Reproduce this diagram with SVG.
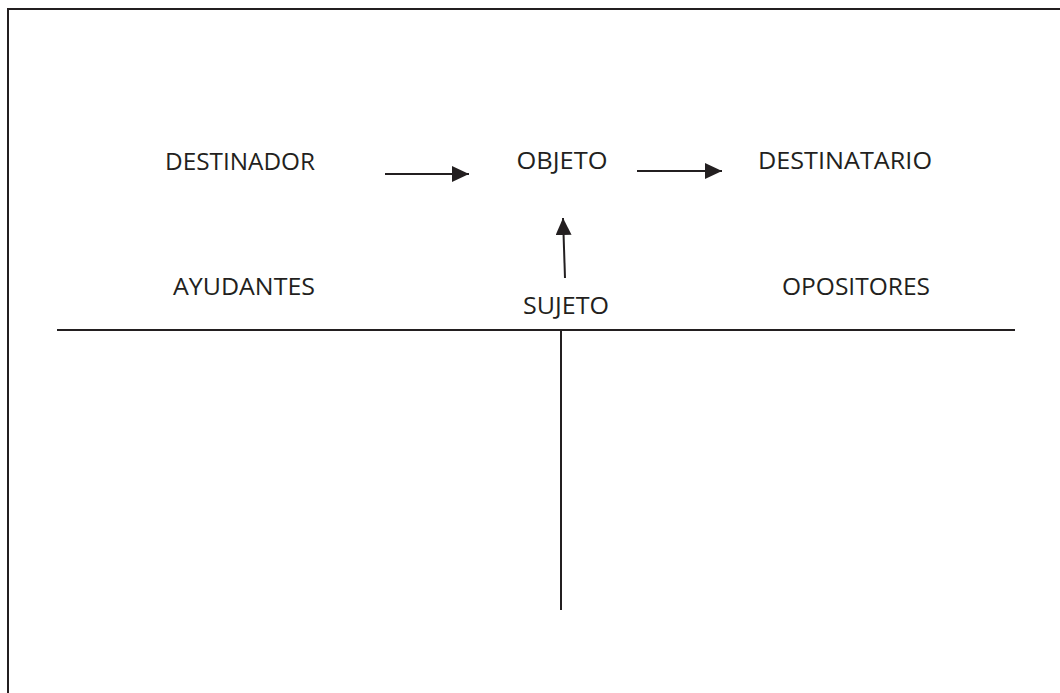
<svg xmlns="http://www.w3.org/2000/svg" width="1060" height="693" viewBox="0 0 1060 693">
<style>
.t{font-family:"Open Sans","Liberation Sans",sans-serif;font-size:23px;fill:#231f20;text-anchor:middle}
.ln{stroke:#231f20;stroke-width:2;fill:none}
</style>
<defs>
<marker id="ah" markerWidth="17" markerHeight="16" refX="17" refY="8" orient="auto" markerUnits="userSpaceOnUse">
<path d="M0,0 L17,8 L0,16 Z" fill="#231f20"/>
</marker>
</defs>
<rect width="1060" height="693" fill="#fff"/>
<g id="frame">
<polyline class="ln" points="8,693 8,9 1060,9"/>
</g>
<g id="destinador"><text class="t" x="240" y="170" textLength="150" lengthAdjust="spacingAndGlyphs">DESTINADOR</text></g>
<g id="objeto"><text class="t" x="562" y="169" textLength="91" lengthAdjust="spacingAndGlyphs">OBJETO</text></g>
<g id="destinatario"><text class="t" x="845" y="169" textLength="174" lengthAdjust="spacingAndGlyphs">DESTINATARIO</text></g>
<g id="ayudantes"><text class="t" x="244" y="295" textLength="142" lengthAdjust="spacingAndGlyphs">AYUDANTES</text></g>
<g id="sujeto"><text class="t" x="566" y="314" textLength="86" lengthAdjust="spacingAndGlyphs">SUJETO</text></g>
<g id="opositores"><text class="t" x="856" y="295" textLength="148" lengthAdjust="spacingAndGlyphs">OPOSITORES</text></g>
<g id="connectors">
<line class="ln" x1="385" y1="174" x2="469" y2="174" marker-end="url(#ah)"/>
<line class="ln" x1="637" y1="171" x2="722" y2="171" marker-end="url(#ah)"/>
<line class="ln" x1="565" y1="278" x2="563" y2="218" marker-end="url(#ah)"/>
<line class="ln" x1="57" y1="330" x2="1015" y2="330"/>
<line class="ln" x1="561" y1="330" x2="561" y2="610"/>
</g>
</svg>
